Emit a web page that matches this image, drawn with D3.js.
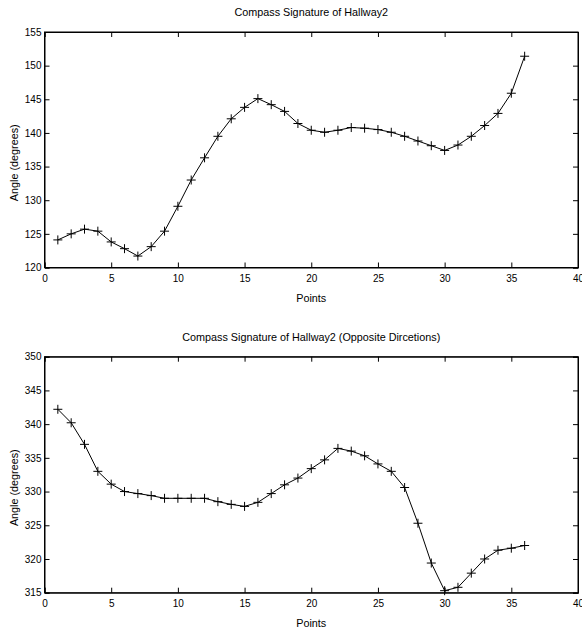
<!DOCTYPE html>
<html>
<head>
<meta charset="utf-8">
<script src="https://cdn.jsdelivr.net/npm/d3@7"></script>
<style>
  html, body { margin: 0; padding: 0; background: #fff; }
  svg { display: block; }
  text { font-family: "Liberation Sans", Arial, sans-serif; fill: #000; }
</style>
</head>
<body>
<svg id="chart" width="582" height="631"></svg>
<script>
const points = d3.range(1, 37);
const hallway2 = [124.1, 125.0, 125.7, 125.4, 123.8, 122.8, 121.7, 123.1, 125.4, 129.1,
  133.0, 136.3, 139.5, 142.1, 143.8, 145.1, 144.2, 143.2, 141.4, 140.4,
  140.1, 140.4, 140.8, 140.7, 140.5, 140.1, 139.5, 138.8, 138.1, 137.4,
  138.2, 139.5, 141.1, 142.9, 145.9, 151.4];
const hallway2Opp = [342.2, 340.2, 337.0, 333.0, 331.1, 330.0, 329.7, 329.4, 329.0, 329.0,
  329.0, 329.0, 328.5, 328.1, 327.8, 328.4, 329.7, 331.0, 332.0, 333.4,
  334.7, 336.4, 336.0, 335.3, 334.1, 333.0, 330.6, 325.3, 319.4, 315.3,
  315.8, 317.9, 320.0, 321.3, 321.6, 322.0];
const xTicks = [0, 5, 10, 15, 20, 25, 30, 35, 40];
const yTicksTop = [120, 125, 130, 135, 140, 145, 150, 155];
const yTicksBottom = [315, 320, 325, 330, 335, 340, 345, 350];
const titles = ["Compass Signature of Hallway2", "Compass Signature of Hallway2 (Opposite Dircetions)"];
const xLabel = "Points";
const yLabel = "Angle (degrees)";

const svg = d3.select("#chart");
const left = 44.5, right = 578;

const panels = [
  { top: 32, bottom: 267.5, values: hallway2, yDomain: [120, 155], yTicks: yTicksTop, title: titles[0] },
  { top: 356.7, bottom: 592.7, values: hallway2Opp, yDomain: [315, 350], yTicks: yTicksBottom, title: titles[1] }
];

panels.forEach(p => {
  const g = svg.append("g");
  const x = d3.scaleLinear().domain([0, 40]).range([left, right]);
  const y = d3.scaleLinear().domain(p.yDomain).range([p.bottom, p.top]);
  const tl = 5;

  // frame
  g.append("rect").attr("x", left).attr("y", p.top)
    .attr("width", right - left).attr("height", p.bottom - p.top)
    .attr("fill", "none").attr("stroke", "#000").attr("stroke-width", 1);

  // axes via d3 (inward ticks)
  const fmt = d3.format("d");
  const bottomAxis = d3.axisBottom(x).tickValues(xTicks).tickSize(-tl).tickPadding(7).tickFormat(fmt);
  const topAxis = d3.axisTop(x).tickValues(xTicks).tickSize(-tl).tickFormat("");
  const leftAxis = d3.axisLeft(y).tickValues(p.yTicks).tickSize(-tl).tickPadding(3).tickFormat(fmt);
  const rightAxis = d3.axisRight(y).tickValues(p.yTicks).tickSize(-tl).tickFormat("");

  [[bottomAxis, `translate(0,${p.bottom})`], [topAxis, `translate(0,${p.top})`],
   [leftAxis, `translate(${left},0)`], [rightAxis, `translate(${right},0)`]].forEach(([ax, tr]) => {
    const a = g.append("g").attr("transform", tr).call(ax);
    a.select(".domain").attr("stroke", "#000");
    a.selectAll(".tick line").attr("stroke", "#000");
    a.selectAll("text").attr("font-size", 10).attr("font-family", "Liberation Sans, Arial, sans-serif").attr("fill", "#000");
  });

  // line
  const line = d3.line().x((d, i) => x(points[i])).y(d => y(d));
  g.append("path").datum(p.values).attr("d", line)
    .attr("fill", "none").attr("stroke", "#000").attr("stroke-width", 1);

  // plus markers
  const m = 4.5;
  g.selectAll(".mk").data(p.values).join("path")
    .attr("d", (d, i) => {
      const cx = x(points[i]), cy = y(d);
      return `M${cx - m},${cy}H${cx + m}M${cx},${cy - m}V${cy + m}`;
    })
    .attr("stroke", "#000").attr("stroke-width", 1).attr("fill", "none");

  // title
  g.append("text").attr("x", (left + right) / 2).attr("y", p.top - 16)
    .attr("text-anchor", "middle").attr("font-size", 10.8).text(p.title);
  // x label
  g.append("text").attr("x", (left + right) / 2).attr("y", p.bottom + 34)
    .attr("text-anchor", "middle").attr("font-size", 10.8).text(xLabel);
  // y label
  const cy = (p.top + p.bottom) / 2 + 13;
  g.append("text").attr("transform", `translate(18,${cy}) rotate(-90)`)
    .attr("text-anchor", "middle").attr("font-size", 10.8).text(yLabel);
});
</script>
</body>
</html>
